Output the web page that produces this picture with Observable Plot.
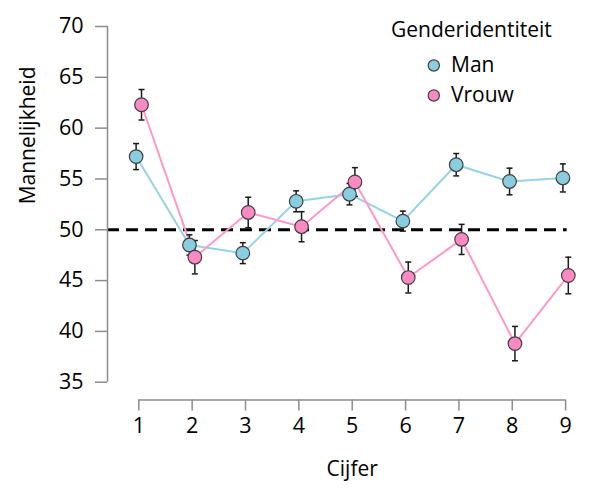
<!DOCTYPE html>
<html>
<head>
<meta charset="utf-8">
<script src="https://cdn.jsdelivr.net/npm/d3@7"></script>
<script src="https://cdn.jsdelivr.net/npm/@observablehq/plot@0.6"></script>
<style>
  html, body { margin: 0; padding: 0; background: white; }
  #chart svg { display: block; }
</style>
</head>
<body>
<div id="chart"></div>
<script>
// ---- data ----
const cijfers = [1, 2, 3, 4, 5, 6, 7, 8, 9];
const groups = ["Man", "Vrouw"];
const manMean   = [57.2, 48.5, 47.7, 52.8, 53.5, 50.85, 56.4, 54.75, 55.1];
const manSE     = [1.28, 1.0, 1.03, 1.03, 1.05, 0.98, 1.1, 1.31, 1.38];
const vrouwMean = [62.3, 47.3, 51.7, 50.3, 54.7, 45.3, 49.05, 38.8, 45.5];
const vrouwSE   = [1.5, 1.64, 1.5, 1.48, 1.41, 1.52, 1.48, 1.69, 1.8];
const yTicks = [35, 40, 45, 50, 55, 60, 65, 70];
const xTicks = [1, 2, 3, 4, 5, 6, 7, 8, 9];
const refLine = [50];
const titles = {x: "Cijfer", y: "Mannelijkheid", legend: "Genderidentiteit"};

// ---- styling ----
const fills = {Man: "#89cde0", Vrouw: "#fb8ac4"};
const lineColors = {Man: "#95d4e4", Vrouw: "#ff97cb"};
const dodge = {Man: -2.7, Vrouw: 2.7};
const axisGray = "#8c8c8c";
const font = "'Open Sans', sans-serif";

const series = {
  Man: cijfers.map((c, i) => ({group: "Man", cijfer: c, mean: manMean[i], lo: manMean[i] - manSE[i], hi: manMean[i] + manSE[i]})),
  Vrouw: cijfers.map((c, i) => ({group: "Vrouw", cijfer: c, mean: vrouwMean[i], lo: vrouwMean[i] - vrouwSE[i], hi: vrouwMean[i] + vrouwSE[i]}))
};

const xDomain = [0.413, 9.03];
const yDomain = [33.25, 70];

// horizontal cap symbol for error bars
const capSymbol = {
  draw(context, size) {
    const r = Math.sqrt(size / Math.PI);
    context.moveTo(-r, 0);
    context.lineTo(r, 0);
  }
};

const marks = [];

// reference line
marks.push(Plot.ruleY(refLine, {stroke: "black", strokeWidth: 3, strokeDasharray: "12,7"}));

// axis lines (offset style)
marks.push(Plot.ruleX([xDomain[0]], {y1: yTicks[0], y2: yTicks[yTicks.length - 1], stroke: axisGray, strokeWidth: 1.5}));
marks.push(Plot.ruleY([yDomain[0]], {x1: xTicks[0], x2: xTicks[xTicks.length - 1], stroke: axisGray, strokeWidth: 1.5}));

marks.push(Plot.axisY({ticks: yTicks, tickSize: 12, tickPadding: 12, stroke: axisGray, strokeWidth: 1.5, fill: "black", fontSize: 21.5, label: null, tickFormat: d => String(d)}));
marks.push(Plot.axisX({ticks: xTicks, tickSize: 11, tickPadding: 7, stroke: axisGray, strokeWidth: 1.5, fill: "black", fontSize: 21.5, label: null, tickFormat: d => String(d)}));

// axis titles
marks.push(Plot.text([titles.y], {frameAnchor: "left", y: [(yTicks[0] + yTicks[yTicks.length - 1]) / 2], text: d => d, rotate: -90, dx: -79, fontSize: 21, fill: "black", lineAnchor: "middle"}));
marks.push(Plot.text([titles.x], {frameAnchor: "bottom", x: [5], text: d => d, dy: 69, fontSize: 21, fill: "black", lineAnchor: "middle"}));

// lines
for (const g of groups) {
  marks.push(Plot.line(series[g], {x: "cijfer", y: "mean", stroke: lineColors[g], strokeWidth: 2, dx: dodge[g]}));
}
// error bars
for (const g of groups) {
  marks.push(Plot.ruleX(series[g], {x: "cijfer", y1: "lo", y2: "hi", stroke: "#1a1a1a", strokeWidth: 1.5, dx: dodge[g]}));
  marks.push(Plot.dot(series[g], {x: "cijfer", y: "lo", symbol: capSymbol, r: 3, stroke: "#1a1a1a", strokeWidth: 1.5, dx: dodge[g]}));
  marks.push(Plot.dot(series[g], {x: "cijfer", y: "hi", symbol: capSymbol, r: 3, stroke: "#1a1a1a", strokeWidth: 1.5, dx: dodge[g]}));
}
// points
for (const g of groups) {
  marks.push(Plot.dot(series[g], {x: "cijfer", y: "mean", r: 6.8, fill: fills[g], stroke: "#404040", strokeWidth: 1.2, dx: dodge[g]}));
}

// legend
marks.push(Plot.text([titles.legend], {frameAnchor: "top-left", dx: 283.5, dy: 4, text: d => d, textAnchor: "start", lineAnchor: "middle", fontSize: 21, fill: "black"}));
groups.forEach((g, i) => {
  marks.push(Plot.dot([g], {frameAnchor: "top-left", dx: 326.3, dy: 39 + 30 * i, r: 5.6, fill: fills[g], stroke: "#404040", strokeWidth: 1.2}));
  marks.push(Plot.text([g], {frameAnchor: "top-left", dx: 343.5, dy: 39 + 30 * i, text: d => d, textAnchor: "start", lineAnchor: "middle", fontSize: 21, fill: "black"}));
});

const chart = Plot.plot({
  width: 609,
  height: 503,
  marginLeft: 107,
  marginRight: 42.3,
  marginTop: 26,
  marginBottom: 103.5,
  x: {type: "linear", domain: xDomain},
  y: {type: "linear", domain: yDomain},
  style: {fontFamily: font, fontSize: "20px", background: "white", color: "black"},
  marks
});
document.getElementById("chart").appendChild(chart);
</script>
</body>
</html>
